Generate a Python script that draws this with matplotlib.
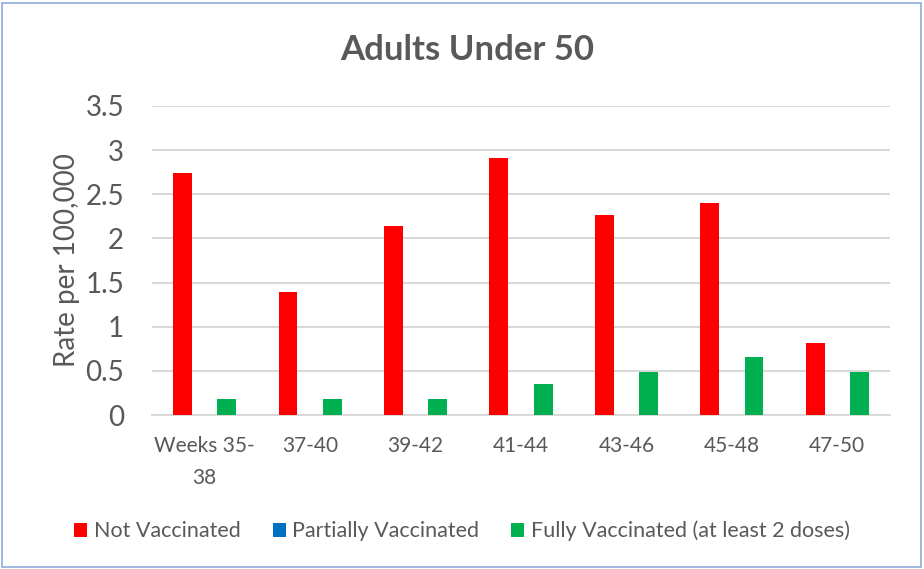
import numpy as np
import matplotlib.pyplot as plt
from matplotlib.patches import Rectangle

plt.rcParams['font.family'] = ['Lato', 'DejaVu Sans']

# Data
periods = ["Weeks 35-\n38", "37-40", "39-42", "41-44", "43-46", "45-48", "47-50"]
not_vacc = [2.74, 1.39, 2.14, 2.91, 2.26, 2.40, 0.81]
partial_vacc = [0, 0, 0, 0, 0, 0, 0]
fully_vacc = [0.18, 0.18, 0.18, 0.35, 0.49, 0.66, 0.49]

series = [
    ("Not Vaccinated", not_vacc, "#ff0000"),
    ("Partially Vaccinated", partial_vacc, "#0070c0"),
    ("Fully Vaccinated (at least 2 doses)", fully_vacc, "#00b050"),
]

grey = "#595959"
fig = plt.figure(figsize=(9.24, 5.69), dpi=100)
ax = fig.add_axes([152 / 924, 1 - 415 / 569, (890 - 152) / 924, (415 - 106) / 569])

x = np.arange(len(periods))
step = 0.21
width = 0.18
for i, (name, vals, col) in enumerate(series):
    ax.bar(x + (i - 1) * step, vals, width, color=col, label=name, zorder=3)

ax.set_xlim(-0.5, len(periods) - 0.5)
ax.set_ylim(0, 3.5)
ax.set_yticks(np.arange(0, 3.51, 0.5))
ax.set_yticklabels([f"{v:g}" for v in np.arange(0, 3.51, 0.5)], fontsize=20, color=grey)
ax.set_xticks(x)
ax.set_xticklabels(periods, fontsize=15, color=grey, linespacing=1.75)
ax.tick_params(axis="both", length=0)
ax.tick_params(axis="y", pad=20)
ax.tick_params(axis="x", pad=15)
ax.grid(axis="y", color="#d9d9d9", linewidth=1.5, zorder=0)
for s in ["top", "right", "left"]:
    ax.spines[s].set_visible(False)
ax.spines["bottom"].set_color("#d9d9d9")
ax.spines["bottom"].set_linewidth(1.5)

ax.set_ylabel("Rate per 100,000", fontsize=20, color=grey, labelpad=4)
fig.text(467 / 924, 1 - 50 / 569, "Adults Under 50", ha="center", va="center",
         fontsize=25, fontweight="bold", color=grey)

fig.legend(loc="center", bbox_to_anchor=(0.5, 1 - 531 / 569), ncol=3, frameon=False,
           fontsize=15.5, labelcolor=grey, handlelength=0.6, handleheight=0.6,
           handletextpad=0.3, columnspacing=1.5)

fig.patches.append(Rectangle((2 / 924, 2 / 569), 919 / 924, 564 / 569, transform=fig.transFigure,
                             fill=False, edgecolor="#8faadc", linewidth=1.2))

fig.savefig("out.png", dpi=100)
